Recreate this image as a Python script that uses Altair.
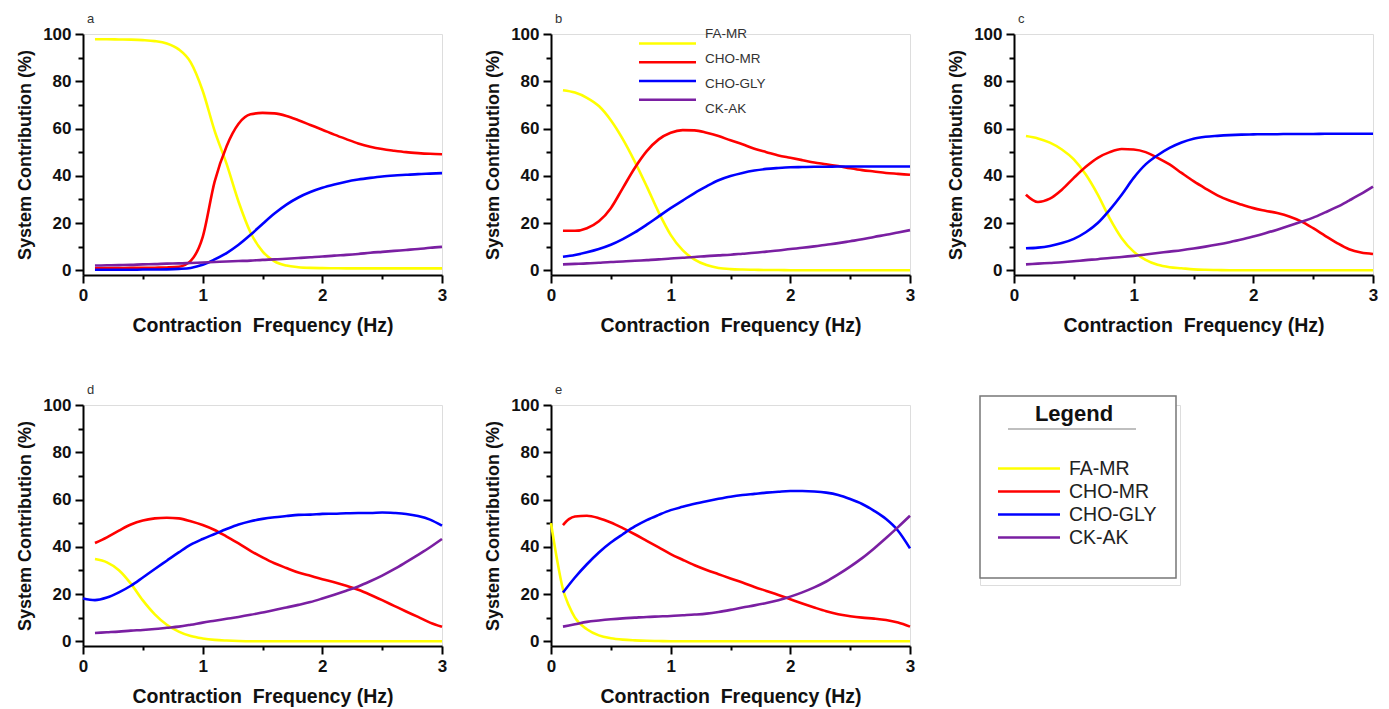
import altair as alt
import pandas as pd

SERIES = ["FA-MR", "CHO-MR", "CHO-GLY", "CK-AK"]
COLORS = ["#FFFF00", "#FF0000", "#0000FF", "#7A1FA2"]

FREQ = [0.1, 0.2, 0.3, 0.4, 0.5, 0.6, 0.7, 0.8, 0.9, 1.0,
        1.1, 1.2, 1.3, 1.4, 1.5, 1.6, 1.7, 1.8, 1.9, 2.0,
        2.1, 2.2, 2.3, 2.4, 2.5, 2.6, 2.7, 2.8, 2.9, 3.0]

# Panel a
A_FA = [97.8, 97.8, 97.7, 97.6, 97.4, 97.0, 96.0, 93.5, 88.0, 76.0,
        59.0, 45.0, 29.0, 16.0, 8.0, 3.8, 2.0, 1.3, 1.0, 0.9,
        0.85, 0.8, 0.8, 0.8, 0.8, 0.8, 0.8, 0.8, 0.8, 0.8]
A_CHOMR = [0.85, 0.9, 0.9, 1.0, 1.0, 1.1, 1.2, 1.5, 4.0, 14.0,
           37.5, 52.5, 62.0, 66.0, 66.6, 66.4, 65.3, 63.5, 61.5, 59.5,
           57.4, 55.5, 53.7, 52.3, 51.3, 50.6, 50.0, 49.6, 49.3, 49.1]
A_CHOGLY = [0.2, 0.2, 0.2, 0.2, 0.3, 0.3, 0.4, 0.6, 1.0, 2.3,
            4.6, 7.3, 10.8, 15.0, 19.6, 24.0, 27.8, 30.8, 33.1, 34.9,
            36.3, 37.5, 38.4, 39.1, 39.7, 40.1, 40.4, 40.7, 40.9, 41.1]
A_CKAK = [2.0, 2.1, 2.2, 2.3, 2.5, 2.6, 2.8, 2.9, 3.1, 3.3,
          3.5, 3.7, 3.9, 4.1, 4.4, 4.6, 4.9, 5.2, 5.5, 5.8,
          6.2, 6.5, 6.9, 7.4, 7.8, 8.2, 8.6, 9.0, 9.5, 9.9]

# Panel b
B_FA = [76.2, 75.2, 73.0, 69.5, 63.5, 55.5, 46.0, 35.5, 24.5, 15.0,
        8.5, 4.5, 2.2, 1.0, 0.5, 0.3, 0.2, 0.1, 0.1, 0.0,
        0.0, 0.0, 0.0, 0.0, 0.0, 0.0, 0.0, 0.0, 0.0, 0.0]
B_CHOMR = [16.7, 16.7, 17.8, 20.7, 26.3, 34.8, 43.3, 50.4, 55.4, 58.2,
           59.3, 59.2, 58.2, 56.8, 55.0, 53.3, 51.4, 50.0, 48.6, 47.6,
           46.6, 45.6, 44.9, 44.1, 43.2, 42.4, 41.8, 41.2, 40.8, 40.4]
B_CHOGLY = [5.7, 6.5, 7.6, 9.0, 10.8, 13.2, 16.0, 19.3, 22.8, 26.3,
            29.5, 32.7, 35.5, 38.1, 39.9, 41.2, 42.2, 42.9, 43.3, 43.6,
            43.7, 43.8, 43.8, 43.9, 43.9, 43.9, 43.9, 43.9, 43.9, 43.9]
B_CKAK = [2.5, 2.7, 2.9, 3.2, 3.5, 3.7, 4.0, 4.3, 4.6, 5.0,
          5.3, 5.6, 6.0, 6.3, 6.6, 7.0, 7.4, 7.9, 8.4, 9.0,
          9.5, 10.1, 10.8, 11.5, 12.3, 13.1, 14.1, 15.0, 16.0, 17.0]

# Panel c
C_FA = [56.8, 55.8, 54.0, 51.1, 46.9, 40.5, 32.0, 22.0, 13.6, 7.9,
        4.4, 2.3, 1.3, 0.85, 0.4, 0.2, 0.1, 0.0, 0.0, 0.0,
        0.0, 0.0, 0.0, 0.0, 0.0, 0.0, 0.0, 0.0, 0.0, 0.0]
C_CHOMR = [32.0, 28.9, 30.3, 34.1, 39.1, 43.8, 47.6, 50.0, 51.3, 51.1,
           50.0, 47.6, 44.8, 41.2, 37.7, 34.6, 31.7, 29.5, 27.8, 26.3,
           25.2, 24.2, 22.8, 20.7, 17.8, 14.6, 11.5, 8.9, 7.5, 6.9]
C_CHOGLY = [9.3, 9.6, 10.3, 11.5, 13.3, 16.1, 20.0, 25.6, 32.0, 39.1,
            44.8, 48.7, 51.8, 54.1, 55.7, 56.5, 56.9, 57.2, 57.4, 57.5,
            57.6, 57.6, 57.7, 57.7, 57.7, 57.8, 57.8, 57.8, 57.8, 57.8]
C_CKAK = [2.5, 2.8, 3.1, 3.4, 3.8, 4.3, 4.7, 5.2, 5.6, 6.1,
          6.7, 7.3, 7.9, 8.5, 9.2, 10.0, 10.9, 11.9, 13.0, 14.3,
          15.7, 17.2, 18.8, 20.5, 22.3, 24.5, 26.8, 29.5, 32.3, 35.4]

# Panel d
D_FA = [34.8, 33.4, 30.1, 24.4, 17.3, 11.4, 7.0, 4.1, 2.2, 1.2,
        0.6, 0.3, 0.1, 0.0, 0.0, 0.0, 0.0, 0.0, 0.0, 0.0,
        0.0, 0.0, 0.0, 0.0, 0.0, 0.0, 0.0, 0.0, 0.0, 0.0]
D_CHOMR = [41.6, 44.0, 46.8, 49.4, 51.1, 52.0, 52.3, 52.0, 50.8, 49.2,
           47.1, 44.3, 41.4, 38.3, 35.5, 33.0, 31.0, 29.1, 27.7, 26.3,
           25.0, 23.5, 21.8, 19.7, 17.4, 15.0, 12.6, 10.3, 7.9, 6.1]
D_CHOGLY = [17.4, 18.5, 20.7, 23.5, 27.0, 30.6, 34.1, 37.6, 40.9, 43.3,
            45.4, 47.5, 49.4, 50.8, 51.8, 52.5, 53.0, 53.5, 53.6, 53.9,
            54.0, 54.2, 54.3, 54.3, 54.5, 54.3, 53.9, 53.0, 51.5, 48.9]
D_CKAK = [3.5, 3.8, 4.1, 4.5, 4.8, 5.2, 5.7, 6.2, 7.0, 7.9,
          8.7, 9.5, 10.3, 11.2, 12.2, 13.2, 14.3, 15.4, 16.6, 18.1,
          19.7, 21.4, 23.2, 25.4, 27.8, 30.5, 33.5, 36.6, 39.8, 43.3]
D_CHOGLY_START_X = [0.0]
D_CHOGLY_START_Y = [18.1]

# Panel e
E_FA = [22.0, 10.0, 5.1, 2.5, 1.3, 0.7, 0.4, 0.2, 0.1, 0.0,
        0.0, 0.0, 0.0, 0.0, 0.0, 0.0, 0.0, 0.0, 0.0, 0.0,
        0.0, 0.0, 0.0, 0.0, 0.0, 0.0, 0.0, 0.0, 0.0, 0.0]
E_CHOMR = [49.2, 52.8, 53.1, 52.1, 50.3, 47.9, 45.3, 42.5, 39.7, 36.9,
           34.5, 32.2, 30.2, 28.4, 26.6, 24.9, 23.0, 21.3, 19.6, 17.8,
           16.0, 14.3, 12.7, 11.4, 10.6, 10.0, 9.6, 9.0, 7.9, 6.2]
E_CHOGLY = [20.6, 27.0, 32.6, 37.6, 41.8, 45.3, 48.6, 51.3, 53.5, 55.5,
            56.9, 58.2, 59.3, 60.3, 61.2, 61.9, 62.4, 62.9, 63.3, 63.6,
            63.6, 63.4, 62.9, 61.9, 60.2, 58.1, 55.2, 51.7, 46.8, 39.3]
E_CKAK = [6.2, 7.2, 8.2, 8.8, 9.3, 9.7, 10.0, 10.3, 10.5, 10.7,
          11.0, 11.3, 11.7, 12.4, 13.3, 14.3, 15.2, 16.2, 17.4, 18.9,
          20.7, 22.8, 25.3, 28.3, 31.6, 35.2, 39.3, 43.7, 48.3, 53.1]
E_FA_START_X = [0.0, 0.05, 0.15]
E_FA_START_Y = [50.0, 34.7, 15.0]
E_CHOMR_EXTRA_X = [0.15]
E_CHOMR_EXTRA_Y = [51.7]

PANELS = {
    "a": [A_FA, A_CHOMR, A_CHOGLY, A_CKAK],
    "b": [B_FA, B_CHOMR, B_CHOGLY, B_CKAK],
    "c": [C_FA, C_CHOMR, C_CHOGLY, C_CKAK],
    "d": [D_FA, D_CHOMR, D_CHOGLY, D_CKAK],
    "e": [E_FA, E_CHOMR, E_CHOGLY, E_CKAK],
}
EXTRAS = [
    ("d", "CHO-GLY", D_CHOGLY_START_X, D_CHOGLY_START_Y),
    ("e", "FA-MR", E_FA_START_X, E_FA_START_Y),
    ("e", "CHO-MR", E_CHOMR_EXTRA_X, E_CHOMR_EXTRA_Y),
]

rows = []
for p, lists in PANELS.items():
    for s, vals in zip(SERIES, lists):
        for f, v in zip(FREQ, vals):
            rows.append({"panel": p, "series": s, "freq": f, "value": v})
for p, s, xs, ys in EXTRAS:
    for f, v in zip(xs, ys):
        rows.append({"panel": p, "series": s, "freq": f, "value": v})
df = pd.DataFrame(rows)

FONT = "Liberation Sans"
cscale = alt.Scale(domain=SERIES, range=COLORS)

xaxis = alt.Axis(
    values=[0, 0.5, 1, 1.5, 2, 2.5, 3],
    labelExpr="datum.value % 1 === 0 ? '' + datum.value : ''",
    tickSize={"condition": {"test": "datum.value % 1 === 0", "value": 8}, "value": 4},
    grid=False, domainColor="black", domainWidth=2, tickColor="black", tickWidth=2,
    labelFontSize=17, labelFontWeight="bold", labelColor="#111", labelPadding=4,
    labelFlush=False, labelOverlap=False,
    titleFontSize=19.5, titleFontWeight="bold", titleColor="#111", titlePadding=13,
    labelFont=FONT, titleFont=FONT,
)
yaxis = alt.Axis(
    values=[0, 10, 20, 30, 40, 50, 60, 70, 80, 90, 100],
    labelExpr="datum.value % 20 === 0 ? '' + datum.value : ''",
    tickSize={"condition": {"test": "datum.value % 20 === 0", "value": 8}, "value": 5},
    grid=False, domainColor="black", domainWidth=2, tickColor="black", tickWidth=2,
    labelFontSize=17, labelFontWeight="bold", labelColor="#111", labelPadding=4,
    labelFlush=False, labelOverlap=False,
    titleFontSize=18, titleFontWeight="bold", titleColor="#111", titlePadding=8,
    labelFont=FONT, titleFont=FONT,
)

XTITLE = "Contraction\u00a0 Frequency (Hz)"
YTITLE = "System Contribution (%)"


def panel(letter, inset_legend=False):
    d = df[df["panel"] == letter]
    lines = alt.Chart(d).mark_line(strokeWidth=2.6, interpolate="monotone").encode(
        x=alt.X("freq:Q", scale=alt.Scale(domain=[0, 3], nice=False, zero=False),
                axis=xaxis, title=XTITLE),
        y=alt.Y("value:Q", scale=alt.Scale(domain=[-2, 100], nice=False),
                axis=yaxis, title=YTITLE),
        color=alt.Color("series:N", scale=cscale, legend=None),
        order=alt.Order("freq:Q"),
    )
    layers = [lines]
    if inset_legend:
        leg = pd.DataFrame({"series": SERIES})
        ly = alt.Y("series:N", scale=alt.Scale(domain=SERIES, range=[0, 75], padding=0), axis=None)
        rule = alt.Chart(leg).mark_rule(strokeWidth=2.5).encode(
            x=alt.value(88), x2=alt.value(145), y=ly,
            color=alt.Color("series:N", scale=cscale, legend=None),
        )
        txt = alt.Chart(leg).mark_text(align="left", baseline="middle", fontSize=13.5,
                                       font=FONT, color="#333").encode(
            x=alt.value(154), y=ly, text="series:N")
        layers += [rule, txt]
    ch = alt.layer(*layers).properties(
        width=359, height=241,
        title=alt.Title(letter, anchor="start", frame="group", fontSize=13,
                        fontWeight="normal", color="#333", font=FONT, offset=-1, dx=4),
    )
    if inset_legend:
        ch = ch.resolve_scale(y="independent")
    return ch


# Separate boxed legend
leg = pd.DataFrame({"series": SERIES})
by = alt.Y("series:N", scale=alt.Scale(domain=SERIES, range=[52, 144], padding=0), axis=None)
box = alt.Chart(pd.DataFrame({"k": [1]})).mark_rect(
    fill="white", stroke="#777", strokeWidth=1.5).encode(
    x=alt.value(0), x2=alt.value(196), y=alt.value(-9), y2=alt.value(173))
ltitle = alt.Chart(pd.DataFrame({"t": ["Legend"]})).mark_text(
    fontSize=22, fontWeight="bold", font=FONT, color="#111", baseline="middle").encode(
    x=alt.value(94), y=alt.value(9), text="t:N")
uline = alt.Chart(pd.DataFrame({"k": [1]})).mark_rule(color="#aaa", strokeWidth=1.5).encode(
    x=alt.value(28), x2=alt.value(156), y=alt.value(24))
lrule = alt.Chart(leg).mark_rule(strokeWidth=2.5).encode(
    x=alt.value(18), x2=alt.value(80), y=by,
    color=alt.Color("series:N", scale=cscale, legend=None))
ltext = alt.Chart(leg).mark_text(align="left", baseline="middle", fontSize=19.5,
                                 font=FONT, color="#222").encode(
    x=alt.value(89), y=by, text="series:N")
legend_chart = alt.layer(box, ltitle, uline, lrule, ltext).properties(width=200, height=180)

top = alt.hconcat(alt.hconcat(panel("a"), panel("b", True), spacing=36), panel("c"), spacing=31)
bottom = alt.hconcat(panel("d"), alt.hconcat(panel("e"), legend_chart, spacing=62), spacing=36)

chart = alt.vconcat(top, bottom, spacing=48).properties(
    padding={"left": 16, "top": 12, "right": 5, "bottom": 5}
).configure_view(stroke=None).configure(font=FONT)

chart.save("out.html", embed_options={"renderer": "svg", "actions": False})
